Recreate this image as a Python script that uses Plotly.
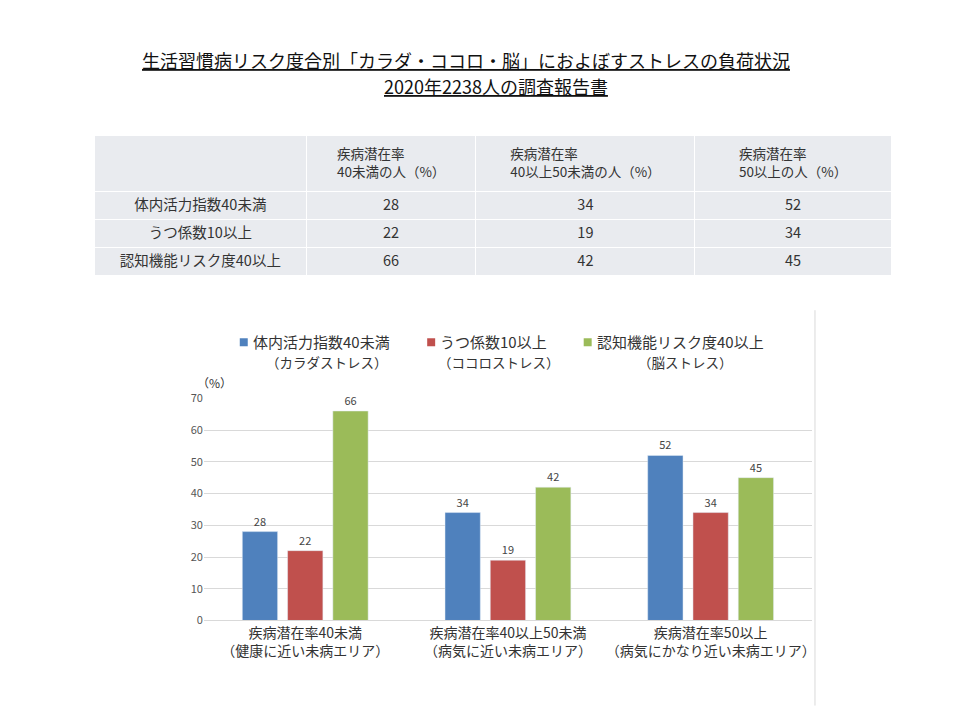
import plotly.graph_objects as go

categories = ["疾病潜在率40未満<br>（健康に近い未病エリア）",
              "疾病潜在率40以上50未満<br>（病気に近い未病エリア）",
              "疾病潜在率50以上<br>（病気にかなり近い未病エリア）"]
series_names = ["体内活力指数40未満", "うつ係数10以上", "認知機能リスク度40以上"]
series_sub = ["（カラダストレス）", "（ココロストレス）", "（脳ストレス）"]
body = [28, 34, 52]
kokoro = [22, 19, 34]
brain = [66, 42, 45]
table_header = ["", "疾病潜在率<br>40未満の人（%）", "疾病潜在率<br>40以上50未満の人（%）", "疾病潜在率<br>50以上の人（%）"]
colors = ["#4f81bd", "#c0504d", "#9bbb59"]

W, H = 960, 720
font = "Noto Sans CJK JP"

def px(t):
    return (t - 8.5) / W

def py(t):
    return 1 - ((t - 17) / 0.977) / H

fig = go.Figure()
fig.add_trace(go.Table(
    domain=dict(x=[px(95), px(895)], y=[py(278), py(135)]),
    columnwidth=[213, 170, 220, 197],
    header=dict(values=table_header, fill_color="#e9ebef", line_color="white",
                height=56, font=dict(family=font, size=13.5, color="#333"), align="center"),
    cells=dict(values=[series_names,
                       [body[0], kokoro[0], brain[0]],
                       [body[1], kokoro[1], brain[1]],
                       [body[2], kokoro[2], brain[2]]],
               fill_color="#e9ebef", line_color="white", height=28,
               font=dict(family=font, size=14.5, color="#333"), align="center")))

for name, vals, c in zip(series_names, [body, kokoro, brain], colors):
    fig.add_trace(go.Bar(x=categories, y=vals, name=name, marker_color=c,
                         text=vals, textposition="outside",
                         textfont=dict(size=11, color="#444"), cliponaxis=False))

fig.update_layout(
    width=W, height=H, margin=dict(l=0, r=0, t=0, b=0),
    paper_bgcolor="white", plot_bgcolor="white", showlegend=False,
    font=dict(family=font, color="#333"),
    barmode="group", bargap=0.33, bargroupgap=0.22,
    xaxis=dict(domain=[px(205), px(815)], showgrid=False, showline=True,
               linecolor="#d9d9d9", tickfont=dict(size=14, color="#333"), ticks=""),
    yaxis=dict(domain=[py(620), py(398)], range=[0, 70], dtick=10,
               gridcolor="#d9d9d9", showline=False, zeroline=False,
               tickfont=dict(size=11, color="#555")),
)

fig.add_annotation(x=px(468), y=py(60), xref="paper", yref="paper", showarrow=False,
                   yanchor="middle",
                   text="<u>生活習慣病リスク度合別「カラダ・ココロ・脳」におよぼすストレスの負荷状況</u>",
                   font=dict(size=18, color="#111"))
fig.add_annotation(x=px(498), y=py(86), xref="paper", yref="paper", showarrow=False,
                   yanchor="middle", text="<u>2020年2238人の調査報告書</u>",
                   font=dict(size=18, color="#111"))
fig.add_annotation(x=px(196), y=py(382), xref="paper", yref="paper", showarrow=False,
                   yanchor="middle", text="（%）", font=dict(size=12, color="#333"))

leg_x = [245, 433, 590]
for i, (n, s) in enumerate(zip(series_names, series_sub)):
    x0 = leg_x[i]
    fig.add_shape(type="rect", xref="paper", yref="paper",
                  x0=px(x0 - 4), x1=px(x0 + 4), y0=py(346), y1=py(338),
                  fillcolor=colors[i], line_width=0)
    fig.add_annotation(x=px(x0 + 7), y=py(341), xref="paper", yref="paper",
                       showarrow=False, xanchor="left", yanchor="middle", text=n,
                       font=dict(size=15, color="#333"))
    fig.add_annotation(x=px(x0 + 7 + len(n) * 7.6), y=py(362), xref="paper", yref="paper",
                       showarrow=False, xanchor="center", yanchor="middle", text=s,
                       font=dict(size=13.5, color="#333"))

fig.add_shape(type="line", xref="paper", yref="paper", x0=px(818), x1=px(818),
              y0=py(310), y1=py(705), line=dict(color="#d9d9d9", width=1))

fig.write_html("out.html")
